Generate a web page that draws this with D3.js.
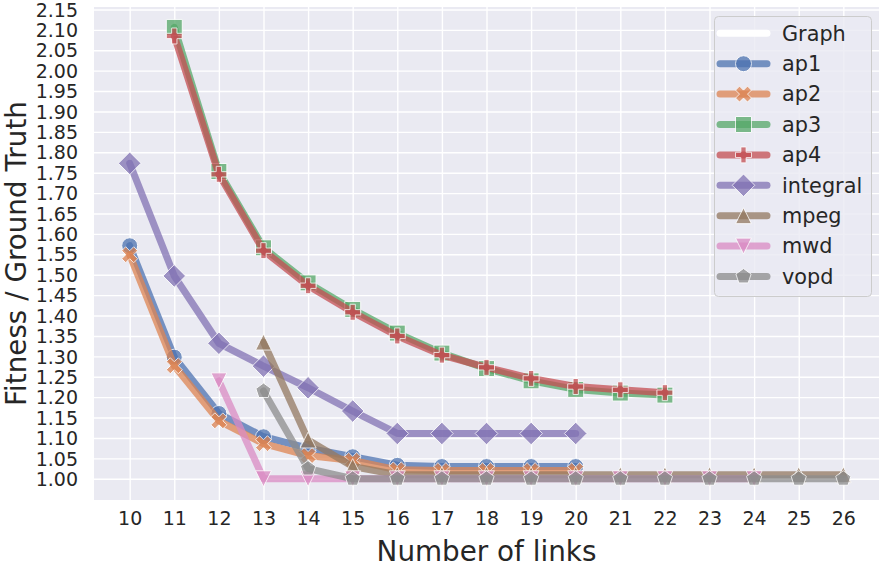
<!DOCTYPE html>
<html>
<head>
<meta charset="utf-8">
<script src="https://cdn.jsdelivr.net/npm/d3@7"></script>
<style>
  html, body { margin: 0; padding: 0; background: #ffffff; }
  svg { display: block; font-family: "DejaVu Sans", sans-serif; }
</style>
</head>
<body>
<svg id="chart" width="886" height="569"></svg>
<script>
// ---------------- data ----------------
const seriesNames = ["ap1", "ap2", "ap3", "ap4", "integral", "mpeg", "mwd", "vopd"];
const seriesColors = ["#4C72B0", "#DD8452", "#55A868", "#C44E52", "#8172B3", "#937860", "#DA8BC3", "#8C8C8C"];
const seriesMarkers = ["o", "X", "s", "P", "D", "^", "v", "p"];

const linksAp1 = [10, 11, 12, 13, 14, 15, 16, 17, 18, 19, 20];
const valuesAp1 = [1.571, 1.298, 1.160, 1.103, 1.075, 1.054, 1.033, 1.030, 1.030, 1.030, 1.030];

const linksAp2 = [10, 11, 12, 13, 14, 15, 16, 17, 18, 19, 20];
const valuesAp2 = [1.549, 1.277, 1.142, 1.086, 1.057, 1.045, 1.022, 1.020, 1.020, 1.020, 1.020];

const linksAp3 = [11, 12, 13, 14, 15, 16, 17, 18, 19, 20, 21, 22];
const valuesAp3 = [2.106, 1.753, 1.566, 1.480, 1.415, 1.357, 1.308, 1.270, 1.240, 1.219, 1.210, 1.205];

const linksAp4 = [11, 12, 13, 14, 15, 16, 17, 18, 19, 20, 21, 22];
const valuesAp4 = [2.085, 1.746, 1.559, 1.473, 1.408, 1.350, 1.303, 1.273, 1.246, 1.226, 1.218, 1.211];

const linksIntegral = [10, 11, 12, 13, 14, 15, 16, 17, 18, 19, 20];
const valuesIntegral = [1.773, 1.497, 1.332, 1.276, 1.223, 1.166, 1.111, 1.111, 1.111, 1.111, 1.111];

const linksMpeg = [13, 14, 15, 16, 17, 18, 19, 20, 21, 22, 23, 24, 25, 26];
const valuesMpeg = [1.335, 1.095, 1.030, 1.010, 1.010, 1.010, 1.010, 1.010, 1.010, 1.010, 1.010, 1.010, 1.010, 1.010];

const linksMwd = [12, 13, 14, 15, 16, 17, 18, 19, 20, 21, 22, 23, 24];
const valuesMwd = [1.240, 1.000, 1.000, 1.000, 1.000, 1.000, 1.000, 1.000, 1.000, 1.000, 1.000, 1.000, 1.000];

const linksVopd = [13, 14, 15, 16, 17, 18, 19, 20, 21, 22, 23, 24, 25, 26];
const valuesVopd = [1.215, 1.025, 1.000, 1.000, 1.000, 1.000, 1.000, 1.000, 1.000, 1.000, 1.000, 1.000, 1.000, 1.000];

const xTicks = [10, 11, 12, 13, 14, 15, 16, 17, 18, 19, 20, 21, 22, 23, 24, 25, 26];
const yTicks = [1.00, 1.05, 1.10, 1.15, 1.20, 1.25, 1.30, 1.35, 1.40, 1.45, 1.50, 1.55, 1.60,
                1.65, 1.70, 1.75, 1.80, 1.85, 1.90, 1.95, 2.00, 2.05, 2.10, 2.15];

const legendTitle = "Graph";
const xLabel = "Number of links";
const yLabel = "Fitness / Ground Truth";

// ---------------- build ----------------
const allLinks = [linksAp1, linksAp2, linksAp3, linksAp4, linksIntegral, linksMpeg, linksMwd, linksVopd];
const allValues = [valuesAp1, valuesAp2, valuesAp3, valuesAp4, valuesIntegral, valuesMpeg, valuesMwd, valuesVopd];
const series = seriesNames.map((name, i) => ({
  name, color: seriesColors[i], marker: seriesMarkers[i],
  points: allLinks[i].map((x, j) => ({ x, y: allValues[i][j] }))
}));

const svg = d3.select("#chart");
const plot = { left: 94, right: 879, top: 7, bottom: 500 };

const x = d3.scaleLinear().domain([9.2, 26.8]).range([plot.left, plot.right]);
const y = d3.scaleLinear().domain([0.948, 2.156]).range([plot.bottom, plot.top]);

const textColor = "#262626";
const tickFont = 19;

// background
svg.append("rect")
  .attr("x", plot.left).attr("y", plot.top)
  .attr("width", plot.right - plot.left).attr("height", plot.bottom - plot.top)
  .attr("fill", "#EAEAF2");

// grid via axes
const xAxis = d3.axisBottom(x).tickValues(xTicks).tickSize(-(plot.bottom - plot.top)).tickPadding(12).tickFormat(d3.format("d"));
const yAxis = d3.axisLeft(y).tickValues(yTicks).tickSize(-(plot.right - plot.left)).tickPadding(16).tickFormat(d3.format(".2f"));

const gx = svg.append("g").attr("transform", `translate(0,${plot.bottom})`).call(xAxis);
const gy = svg.append("g").attr("transform", `translate(${plot.left},0)`).call(yAxis);
[gx, gy].forEach(g => {
  g.select(".domain").remove();
  g.selectAll(".tick line").attr("stroke", "#ffffff").attr("stroke-width", 1.4);
  g.selectAll(".tick text").attr("fill", textColor).attr("font-size", tickFont)
    .attr("font-family", "DejaVu Sans");
});
gy.selectAll(".tick text").attr("dy", "0.35em");
gx.selectAll(".tick text").attr("dy", "0.71em");

// axis labels
svg.append("text")
  .attr("x", (plot.left + plot.right) / 2).attr("y", 561)
  .attr("text-anchor", "middle").attr("font-size", 27.8).attr("fill", textColor)
  .text(xLabel);
svg.append("text")
  .attr("transform", `translate(25.5,${(plot.top + plot.bottom) / 2}) rotate(-90)`)
  .attr("text-anchor", "middle").attr("font-size", 27.8).attr("fill", textColor)
  .text(yLabel);

// marker shapes (matplotlib-like), ms = marker size in px
function markerPath(m, ms) {
  const r = ms / 2;
  const poly = pts => "M" + pts.map(p => p[0].toFixed(2) + "," + p[1].toFixed(2)).join("L") + "Z";
  switch (m) {
    case "o": return `M${r},0A${r},${r},0,1,1,${-r},0A${r},${r},0,1,1,${r},0Z`;
    case "s": return poly([[-r, -r], [r, -r], [r, r], [-r, r]]);
    case "D": { const d = r * Math.SQRT2; return poly([[0, -d], [d, 0], [0, d], [-d, 0]]); }
    case "^": return poly([[0, -r], [r, r], [-r, r]]);
    case "v": return poly([[0, r], [r, -r], [-r, -r]]);
    case "p": return poly(d3.range(5).map(k => {
      const a = -Math.PI / 2 + k * 2 * Math.PI / 5; return [r * Math.cos(a), r * Math.sin(a)];
    }));
    case "P": {
      const u = ms / 6;
      return poly([[-u, -3 * u], [u, -3 * u], [u, -u], [3 * u, -u], [3 * u, u], [u, u],
                   [u, 3 * u], [-u, 3 * u], [-u, u], [-3 * u, u], [-3 * u, -u], [-u, -u]]);
    }
    case "X": {
      const u = ms / 4;
      return poly([[-u, -2 * u], [0, -u], [u, -2 * u], [2 * u, -u], [u, 0], [2 * u, u],
                   [u, 2 * u], [0, u], [-u, 2 * u], [-2 * u, u], [-u, 0], [-2 * u, -u]]);
    }
  }
}

const ms = 16;
const lineW = 7;
const alpha = 0.75;

const lineGen = d3.line().x(d => x(d.x)).y(d => y(d.y));

const gPlot = svg.append("g");
series.forEach(s => {
  const g = gPlot.append("g");
  g.append("path").datum(s.points)
    .attr("d", lineGen).attr("fill", "none")
    .attr("stroke", s.color).attr("stroke-width", lineW)
    .attr("stroke-linecap", "round").attr("stroke-linejoin", "round")
    .attr("opacity", alpha);
  g.selectAll("path.mk").data(s.points).enter().append("path")
    .attr("class", "mk")
    .attr("transform", d => `translate(${x(d.x)},${y(d.y)})`)
    .attr("d", markerPath(s.marker, ms))
    .attr("fill", s.color).attr("stroke", "#ffffff").attr("stroke-width", 1)
    .attr("opacity", alpha);
});

// legend
const leg = { x: 714, y: 16, w: 157, h: 280, rowH: 30.4, first: 33.3 };
svg.append("rect")
  .attr("x", leg.x + 0.5).attr("y", leg.y + 0.5).attr("width", leg.w).attr("height", leg.h)
  .attr("rx", 4).attr("ry", 4)
  .attr("fill", "#EAEAF2").attr("fill-opacity", 0.8)
  .attr("stroke", "#cccccc").attr("stroke-width", 1);

const legendItems = [{ name: legendTitle, color: "#ffffff", marker: null }].concat(series);
legendItems.forEach((s, i) => {
  const cy = leg.first + i * leg.rowH;
  const g = svg.append("g");
  g.append("line").attr("x1", 720).attr("x2", 767).attr("y1", cy).attr("y2", cy)
    .attr("stroke", s.color).attr("stroke-width", lineW).attr("stroke-linecap", "round")
    .attr("opacity", s.marker ? alpha : 1);
  if (s.marker) {
    g.append("path").attr("transform", `translate(743.5,${cy})`)
      .attr("d", markerPath(s.marker, ms))
      .attr("fill", s.color).attr("stroke", "#ffffff").attr("stroke-width", 1).attr("opacity", alpha);
  }
  g.append("text").attr("x", 782).attr("y", cy).attr("dy", "0.35em")
    .attr("font-size", 20.8).attr("fill", textColor).text(s.name);
});
</script>
</body>
</html>
